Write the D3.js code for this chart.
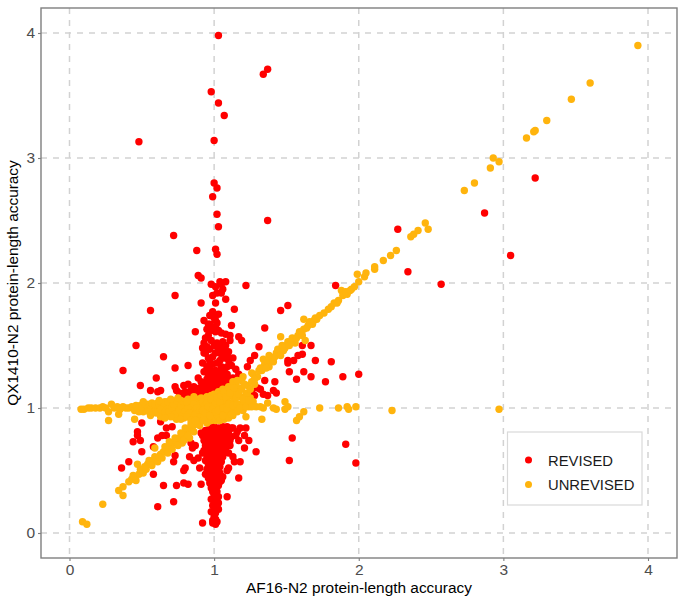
<!DOCTYPE html>
<html>
  <head>
    <title>Protein-length accuracy</title>
    <script src="https://d3js.org/d3.v7.min.js"></script>
    <style>
      html, body { margin: 0; padding: 0; background: #fff; }
      svg { display: block; font-family: "Liberation Sans", Arial, sans-serif; }
    </style>
  </head>
  <body>
    <svg width="685" height="604"></svg>
    <script>
      const xTicks = [0, 1, 2, 3, 4];
      const yTicks = [0, 1, 2, 3, 4];
      const legendLabels = ["REVISED", "UNREVISED"];

      // [AF16-N2, QX1410-N2]
      const revisedHigh = [
        [1.03,3.98],[1.37,3.71],[1.34,3.67],[0.98,3.53],[1.03,3.44],[1.07,3.34],[0.48,3.13],[1.00,3.14],
        [1.00,2.80],[1.02,2.76],[0.99,2.69],[1.02,2.55],[1.03,2.45],[1.37,2.50],[0.72,2.38],[0.88,2.26],
        [1.01,2.27],[1.02,2.23],[0.89,2.06],[0.91,2.04],[1.04,2.01],[1.08,2.01],[1.05,1.99],[0.98,1.99],
        [1.01,1.97],[1.22,1.98],[0.73,1.90],[1.05,1.92],[1.06,1.95],[1.08,1.87],[3.22,2.84],[2.87,2.56],
        [3.05,2.22],[2.27,2.43],[2.34,2.09],[2.57,1.99],[1.84,1.98],[1.51,1.82],[1.46,1.78]
      ];
      const revisedLeft = [
        [0.56,1.78],[0.46,1.50],[0.65,1.41],[0.37,1.30],[0.73,1.32],[0.82,1.34],[0.60,1.24],[0.49,1.18],
        [0.56,1.14],[0.63,1.14],[0.61,1.13],[0.89,1.24],[0.73,1.17],[0.74,1.14],[0.79,1.18],[0.82,1.19],
        [0.80,1.13],[0.77,1.10],[0.83,1.10],[0.87,1.14],[0.91,1.11],[0.91,1.84],[0.87,1.61],[0.93,1.70],
        [0.96,1.67],[0.94,1.56],[0.93,1.44],[0.50,0.88],[0.63,0.89],[0.67,0.84],[0.71,0.85],[0.47,0.81],
        [0.47,0.78],[0.44,0.73],[0.49,0.74],[0.61,0.76],[0.64,0.78],[0.67,0.78],[0.50,0.65],[0.58,0.69],
        [0.41,0.57],[0.36,0.52],[0.58,0.47],[0.73,0.62],[0.72,0.57],[0.80,0.52],[0.79,0.50],[0.65,0.38],
        [0.74,0.38],[0.79,0.40],[0.82,0.39],[0.91,0.39],[0.72,0.25],[0.61,0.21],[0.92,0.08],[0.85,0.68],
        [0.83,0.61],[0.86,0.58],[0.90,0.52],[0.92,0.64],[0.91,0.80],[0.84,0.72],[0.87,0.70],[0.89,0.60],
        [0.76,1.12],[0.79,1.11],[0.81,1.12],[0.85,1.11],[0.88,1.10],[0.90,1.13],[0.84,1.14],[0.86,1.17],
        [0.90,1.16],[0.93,1.29],[0.91,1.21],[0.92,1.36],[0.93,1.52],[0.95,1.63],[0.92,1.48]
      ];
      const revisedRight = [
        [1.14,1.79],[1.35,1.64],[1.12,1.66],[1.31,1.49],[1.17,1.57],[1.19,1.54],[1.11,1.58],[1.11,1.54],
        [1.08,1.59],[1.28,1.42],[1.25,1.38],[1.23,1.33],[1.61,1.50],[1.67,1.50],[1.58,1.42],[1.61,1.43],
        [1.70,1.38],[1.51,1.38],[1.55,1.38],[1.51,1.36],[1.81,1.37],[2.00,1.27],[1.89,1.25],[1.77,1.21],
        [1.67,1.25],[1.62,1.29],[1.52,1.29],[1.57,1.23],[1.35,1.22],[1.42,1.21],[1.41,1.14],[1.43,1.12],
        [1.37,1.10],[1.26,1.13],[1.26,1.10],[1.22,0.84],[1.16,0.81],[1.21,0.78],[1.24,0.74],[1.21,0.68],
        [1.29,0.65],[1.54,0.76],[1.91,0.71],[1.98,0.56],[1.52,0.58],[1.18,0.57],[1.13,0.61],[1.14,0.57],
        [1.11,0.70],[1.10,0.64],[1.10,0.52],[1.09,0.50],[1.17,0.44],[1.05,0.42],[1.04,0.48],[1.09,0.29],
        [1.15,0.78],[1.13,0.84],[1.18,0.84],[1.12,0.77],[1.17,0.74],[1.10,1.45],[1.13,1.40],[1.12,1.34],
        [1.15,1.31],[1.09,1.33],[1.17,1.27],[1.13,1.24],[1.08,1.50],[1.06,1.53],[1.05,1.60],[1.09,1.42],
        [1.32,1.15],[1.34,1.11],[1.28,1.10],[1.30,1.16]
      ];
      const revisedColumn = [
        [0.99,1.90],[1.02,1.92],[1.01,1.84],[0.99,1.77],[0.97,1.74],[1.01,1.70],[0.97,1.67],[1.01,1.65],
        [1.00,1.72],[1.02,1.68],[1.03,1.75],[0.98,1.62],[0.96,1.58],[1.01,1.61],[1.03,1.62],[0.98,1.54],
        [1.02,1.52],[1.04,1.49],[1.07,1.46],[0.94,1.44],[0.99,1.41],[0.97,1.37],[1.02,1.36],[1.10,1.38],
        [1.05,1.33],[1.01,1.30],[0.95,1.49],[0.97,1.47],[1.00,1.50],[1.03,1.46],[1.05,1.43],[1.07,1.40],
        [1.01,1.44],[0.96,1.40],[1.04,1.38],[0.99,1.35],[0.95,1.33],[0.97,1.31],[1.03,1.29],[1.07,1.30],
        [1.09,1.27],[0.96,1.26],[0.99,1.27],[1.02,1.26],[1.05,1.26],[0.95,1.23],[0.98,1.22],[1.01,1.23],
        [1.04,1.22],[1.07,1.23],[1.10,1.22],[0.93,1.20],[0.96,1.19],[0.99,1.19],[1.02,1.19],[1.05,1.19],
        [1.08,1.19],[1.11,1.18],[0.92,1.16],[0.95,1.16],[0.98,1.15],[1.01,1.16],[1.04,1.15],[1.07,1.16],
        [1.10,1.15],[0.93,1.13],[0.97,1.12],[1.00,1.13],[1.03,1.12],[1.06,1.13],[1.09,1.12],
        [0.97,0.84],[1.00,0.85],[1.03,0.84],[1.06,0.85],[1.09,0.85],[1.12,0.84],[0.94,0.82],[0.92,0.78],
        [0.95,0.79],[0.98,0.80],[1.01,0.81],[1.04,0.80],[1.07,0.81],[1.10,0.80],[0.93,0.74],[0.96,0.75],
        [0.99,0.76],[1.02,0.76],[1.05,0.77],[1.08,0.76],[1.11,0.74],[0.94,0.70],[0.97,0.71],[1.00,0.72],
        [1.03,0.72],[1.06,0.73],[1.09,0.72],[0.93,0.66],[0.96,0.67],[0.99,0.68],[1.02,0.68],[1.05,0.69],
        [1.08,0.68],[0.95,0.62],[0.98,0.63],[1.01,0.64],[1.04,0.64],[1.07,0.65],[0.94,0.58],[0.97,0.59],
        [1.00,0.60],[1.03,0.60],[1.06,0.61],[0.96,0.55],[0.99,0.56],[1.02,0.56],[1.05,0.57],[0.95,0.51],
        [0.98,0.52],[1.01,0.53],[1.04,0.53],[0.94,0.47],[0.97,0.48],[1.00,0.49],[1.03,0.49],[1.06,0.45],
        [0.96,0.44],[0.99,0.45],[1.02,0.45],[1.04,0.41],[0.97,0.40],[1.00,0.41],[1.01,0.37],[0.98,0.36],
        [1.03,0.38],[0.99,0.33],[1.02,0.33],[1.00,0.30],[0.98,0.27],[1.03,0.29],[1.01,0.26],[1.03,0.24],
        [0.99,0.22],[1.02,0.20],[0.98,0.17],[1.01,0.16],[1.03,0.19],[1.00,0.13],[1.01,0.11],[0.99,0.10],
        [1.02,0.09],[0.99,0.08],[1.01,0.07]
      ];

      const unrevisedFlat = [
        [0.08,0.99],[0.10,0.99],[0.13,1.00],[0.15,1.00],[0.18,1.00],[0.21,1.00],[0.23,1.01],[0.25,1.00],
        [0.27,0.97],[0.29,1.03],[0.31,1.00],[0.33,1.01],[0.35,0.99],[0.37,1.01],[0.39,1.00],[0.41,1.00],
        [0.43,1.01],[0.45,0.98],[0.47,1.00],[0.49,1.02],[0.51,0.97],[0.53,1.00],[0.54,1.03],[0.56,0.99],
        [0.57,0.96],[0.58,1.02],[0.60,1.00],[0.61,1.04],[0.62,0.97],[0.64,1.01],[0.65,0.95],[0.66,1.05],
        [0.67,0.99],[0.69,1.02],[0.70,0.96],[0.71,1.05],[0.72,0.93],[0.73,1.00],[0.74,0.98],[0.75,1.04],
        [0.76,0.95],[0.77,1.06],[0.78,1.00],[0.79,0.92],[0.80,1.03],[0.81,0.97],[0.82,1.07],[0.83,0.94],
        [0.84,1.01],[0.85,1.05],[0.86,0.91],[0.87,0.98],[0.88,1.07],[0.89,0.95],[0.90,1.03],[0.91,1.08],
        [0.27,0.90],[0.34,0.95],[0.45,0.91],[0.59,0.97],[0.63,0.93],[0.68,0.94],[0.74,0.91],
        [0.46,1.02],[0.48,0.97],[0.50,1.01],[0.52,1.03],[0.55,0.97],[0.57,1.04],[0.59,1.03],[0.60,0.96],
        [0.62,1.03],[0.63,0.99],[0.65,1.04],[0.66,0.97],[0.68,1.05],[0.69,0.97],[0.71,1.00],[0.72,1.03],
        [0.73,0.95],[0.74,1.06],[0.76,0.98],[0.77,1.02],[0.78,0.94],[0.79,1.05],[0.80,0.97],[0.82,1.01],
        [0.83,0.96],[0.84,1.06],[0.85,0.92],[0.86,1.03],[0.87,0.95],[0.88,1.00],[0.89,0.90],[0.90,0.98],
        [0.91,0.93],[0.92,1.05],[0.70,0.93],[0.77,0.91],[0.81,0.93],[0.84,0.90],[0.75,1.08],[0.81,1.05],
        [0.62,1.06],[0.70,1.07],[0.86,1.09],[0.66,0.92],[0.56,0.94],[0.51,1.05]
      ];
      const unrevisedCore = [
        [0.90,0.86],[0.92,0.90],[0.93,0.97],[0.94,1.02],[0.95,1.09],[0.95,0.88],[0.96,0.92],[0.97,0.98],
        [0.97,1.05],[0.98,1.10],[0.98,0.90],[0.99,0.95],[1.00,1.00],[1.00,1.06],[1.00,1.11],[1.01,0.90],
        [1.02,0.94],[1.02,1.02],[1.03,1.08],[1.03,1.13],[1.04,0.90],[1.05,0.97],[1.05,1.03],[1.06,1.10],
        [1.06,1.15],[1.07,0.91],[1.08,0.96],[1.08,1.02],[1.09,1.07],[1.09,1.14],[1.10,0.92],[1.11,0.98],
        [1.11,1.04],[1.12,1.10],[1.12,1.17],[1.13,0.94],[1.14,1.00],[1.14,1.06],[1.15,1.13],[1.15,1.19],
        [1.16,0.97],[1.17,1.03],[1.18,1.09],[1.18,1.16],[1.19,1.22],[1.20,0.98],[1.21,1.04],[1.22,1.11],
        [1.23,1.18],[1.24,1.01],[1.25,1.08],[1.26,1.21],[1.27,1.05],[1.28,1.19],[1.22,0.93],[0.96,1.08],
        [0.93,0.93],[0.99,1.03],[1.04,1.00],[1.07,1.06],[1.13,1.12],[1.29,1.01],[1.33,0.91],[1.34,1.00],
        [1.41,1.00],[1.43,0.99],[1.49,0.99],[1.51,1.01],[1.49,1.05],[1.30,1.25],[1.33,1.30],[1.27,1.27],
        [1.37,1.04],
        [0.92,0.98],[0.94,0.96],[0.95,1.04],[0.96,1.01],[0.97,0.94],[0.98,1.07],[0.99,0.99],[1.01,0.97],
        [1.01,1.04],[1.02,1.08],[1.03,0.98],[1.04,1.05],[1.05,1.10],[1.06,0.94],[1.06,1.00],[1.07,1.13],
        [1.08,1.09],[1.09,0.99],[1.10,1.03],[1.10,1.17],[1.11,1.12],[1.12,0.95],[1.13,1.02],[1.13,1.21],
        [1.14,1.16],[1.15,1.08],[1.16,1.03],[1.16,1.22],[1.17,1.11],[1.18,1.00],[1.19,1.15],[1.20,1.07],
        [1.20,1.25],[1.21,1.19],[1.22,1.01],[1.23,1.12],[1.24,1.06],[1.25,1.15],[1.26,1.01],[1.26,1.28],
        [1.28,1.23],[1.31,1.30],[1.32,1.01]
      ];
      const unrevisedRise = [
        [0.09,0.09],[0.12,0.07],[0.23,0.23],[0.37,0.30],[0.34,0.34],[0.37,0.37],[0.41,0.41],[0.43,0.43],
        [0.45,0.45],[0.48,0.47],[0.47,0.55],[0.50,0.50],[0.52,0.53],[0.54,0.55],[0.56,0.55],[0.58,0.58],
        [0.59,0.68],[0.60,0.60],[0.63,0.63],[0.65,0.65],[0.67,0.67],[0.70,0.70],[0.72,0.72],[0.74,0.73],
        [0.76,0.76],[0.79,0.78],[0.81,0.81],[0.83,0.82],[0.85,0.85],[0.88,0.87],[0.78,0.72],[0.83,0.76],
        [1.32,1.32],[1.35,1.35],[1.37,1.37],[1.40,1.40],[1.38,1.33],[1.43,1.44],[1.45,1.45],[1.48,1.46],
        [1.46,1.57],[1.50,1.50],[1.53,1.53],[1.55,1.55],[1.56,1.52],[1.58,1.58],[1.60,1.60],[1.62,1.63],
        [1.62,1.71],[1.63,1.54],[1.65,1.66],[1.67,1.68],[1.69,1.70],[1.71,1.71],[1.76,1.76],[1.81,1.81],
        [1.83,1.84],[1.86,1.86],[1.88,1.94],[1.89,1.90],[1.92,1.91],[1.95,1.95],[1.97,1.97],[1.99,2.07],
        [2.00,2.01],[2.04,2.05],[2.05,2.08],[2.11,2.11],[2.11,2.13],[2.17,2.18],[2.22,2.22],[2.26,2.26],
        [2.36,2.37],[2.38,2.39],[2.41,2.42],[2.46,2.48],[2.48,2.43],[2.73,2.74],[2.80,2.80],[2.91,2.92],
        [2.93,3.00],[2.97,2.97],[3.16,3.16],[3.21,3.21],[3.22,3.22],[3.30,3.30],[3.47,3.47],[3.60,3.60],[3.93,3.90],
        [0.44,0.46],[0.46,0.42],[0.49,0.51],[0.51,0.48],[0.53,0.51],[0.55,0.58],[0.57,0.54],[0.59,0.61],
        [0.61,0.57],[0.62,0.61],[0.64,0.60],[0.66,0.69],[0.68,0.64],[0.69,0.73],[0.71,0.67],[0.73,0.76],
        [0.75,0.70],[0.77,0.80],[0.79,0.74],[0.80,0.84],[0.82,0.78],[0.84,0.87],[0.86,0.81],[0.87,0.90],
        [1.34,1.39],[1.36,1.32],[1.38,1.42],[1.41,1.37],[1.42,1.41],[1.44,1.47],[1.46,1.42],[1.47,1.50],
        [1.49,1.48],[1.51,1.53],[1.52,1.50],[1.54,1.56],[1.57,1.56],[1.59,1.61],[1.61,1.58],[1.64,1.64],
        [1.66,1.69],[1.68,1.67],[1.70,1.72],[1.73,1.74],[1.79,1.79],[1.85,1.84],[1.91,1.93],[1.94,1.94]
      ];
      const unrevisedFar = [
        [1.57,0.90],[1.59,0.93],[1.62,0.97],[1.73,1.00],[1.86,1.00],[1.92,1.01],[1.93,0.99],[1.98,1.01],
        [2.23,0.98],[2.97,0.99]
      ];

      const revised = [].concat(revisedHigh, revisedLeft, revisedRight, revisedColumn);
      const unrevised = [].concat(unrevisedFlat, unrevisedCore, unrevisedRise, unrevisedFar);

      const svg = d3.select("svg");
      const margin = {top: 8, right: 8, bottom: 46, left: 41};
      const width = +svg.attr("width");
      const height = +svg.attr("height");
      const pointRadius = 3.7;

      const xScale = d3.scaleLinear().domain([0, 4]).range([69.5, 648]);
      const yScale = d3.scaleLinear().domain([0, 4]).range([533, 33]);

      // grid
      const grid = svg.append("g")
        .attr("stroke", "#d2d2d2")
        .attr("stroke-width", 1.5)
        .attr("stroke-dasharray", "6,6");
      grid.selectAll(".v").data(xTicks).enter().append("line")
        .attr("x1", d => xScale(d)).attr("x2", d => xScale(d))
        .attr("y1", margin.top).attr("y2", height - margin.bottom);
      grid.selectAll(".h").data(yTicks).enter().append("line")
        .attr("y1", d => yScale(d)).attr("y2", d => yScale(d))
        .attr("x1", margin.left).attr("x2", width - margin.right);

      // points, revised underneath
      svg.append("g").selectAll("circle").data(revised).enter().append("circle")
        .attr("cx", d => xScale(d[0]))
        .attr("cy", d => yScale(d[1]))
        .attr("r", pointRadius)
        .attr("fill", "#ff0000");
      svg.append("g").selectAll("circle").data(unrevised).enter().append("circle")
        .attr("cx", d => xScale(d[0]))
        .attr("cy", d => yScale(d[1]))
        .attr("r", pointRadius)
        .attr("fill", "#ffb40d");

      // axes
      const xAxis = svg.append("g")
        .attr("transform", `translate(0, ${height - margin.bottom})`)
        .call(d3.axisBottom(xScale).tickValues(xTicks).tickSize(3).tickPadding(3).tickFormat(d3.format("d")));
      const yAxis = svg.append("g")
        .attr("transform", `translate(${margin.left}, 0)`)
        .call(d3.axisLeft(yScale).tickValues(yTicks).tickSize(3).tickPadding(3).tickFormat(d3.format("d")));
      [xAxis, yAxis].forEach(axis => {
        axis.select(".domain").remove();
        axis.selectAll("line").attr("stroke", "#7f7f7f").attr("stroke-width", 1.1);
        axis.selectAll("text").attr("fill", "#4d4d4d").attr("font-size", 15.5)
          .attr("font-family", '"Liberation Sans", Arial, sans-serif');
      });

      // panel border
      svg.append("rect")
        .attr("x", margin.left).attr("y", margin.top)
        .attr("width", width - margin.left - margin.right)
        .attr("height", height - margin.top - margin.bottom)
        .attr("fill", "none")
        .attr("stroke", "#7f7f7f")
        .attr("stroke-width", 1.4);

      // titles
      svg.append("text")
        .attr("x", 359).attr("y", 593)
        .attr("text-anchor", "middle")
        .attr("font-size", 15.4)
        .text("AF16-N2 protein-length accuracy");
      svg.append("text")
        .attr("transform", "translate(18, 283) rotate(-90)")
        .attr("text-anchor", "middle")
        .attr("font-size", 15.4)
        .text("QX1410-N2 protein-length accuracy");

      // legend
      const legend = svg.append("g");
      legend.append("rect")
        .attr("x", 507.5).attr("y", 432)
        .attr("width", 134.5).attr("height", 73)
        .attr("fill", "#fff")
        .attr("stroke", "#d9d9d9")
        .attr("stroke-width", 1.2);
      const legendColor = d3.scaleOrdinal().domain(legendLabels).range(["#ff0000", "#ffb40d"]);
      const legendY = d3.scalePoint().domain(legendLabels).range([460, 484.5]);
      legend.selectAll("circle").data(legendLabels).enter().append("circle")
        .attr("cx", 528.5)
        .attr("cy", d => legendY(d))
        .attr("r", 3.5)
        .attr("fill", d => legendColor(d));
      legend.selectAll("text").data(legendLabels).enter().append("text")
        .attr("x", 548)
        .attr("y", d => legendY(d) + 5.5)
        .attr("font-size", 14.8)
        .attr("fill", "#1a1a1a")
        .text(d => d);
    </script>
  </body>
</html>
